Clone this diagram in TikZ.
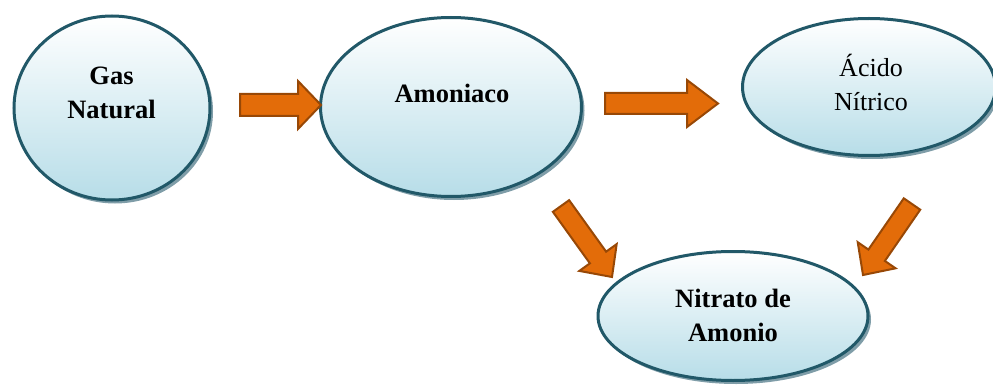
\documentclass[tikz,border=0pt]{standalone}
\usepackage{fontspec}
\setmainfont{Liberation Serif}
\usetikzlibrary{shapes.geometric,shadows,calc}

\definecolor{rimc}{RGB}{33,88,104}
\definecolor{fillc}{RGB}{183,221,232}
\definecolor{shadc}{RGB}{105,140,153}
\definecolor{arrfill}{RGB}{227,108,9}
\definecolor{arrline}{RGB}{152,72,6}

\tikzset{
  bubble/.style={ellipse, draw=rimc, line width=3pt, inner sep=0pt,
    top color=white, bottom color=fillc,
    drop shadow={shadow xshift=3pt, shadow yshift=-3.5pt, fill=shadc, opacity=0.85}},
  lbl/.style={font=\fontsize{26}{34}\selectfont, align=center, inner sep=0pt},
  blockarr/.style={fill=arrfill, draw=arrline, line width=2pt, line join=miter}
}

% block arrow: tail, tip, body half width, head half width, head length
\newcommand\blockarrow[5]{%
  \coordinate (ba-h) at ($(#2)!#5!(#1)$);
  \draw[blockarr]
    ($(#1)!#3!90:(#2)$) --
    ($(ba-h)!#3!-90:(#1)$) --
    ($(ba-h)!#4!-90:(#1)$) --
    (#2) --
    ($(ba-h)!#4!90:(#1)$) --
    ($(ba-h)!#3!90:(#1)$) --
    ($(#1)!#3!-90:(#2)$) -- cycle;}

\begin{document}
\begin{tikzpicture}[x=1pt,y=-1pt]
\useasboundingbox (0,0) rectangle (993,385);

% process stages
\node[bubble, minimum width=196pt, minimum height=184pt] (gas) at (112,108) {};
\node[bubble, minimum width=261pt, minimum height=179pt] (amon) at (451,107) {};
\node[bubble, minimum width=253pt, minimum height=137pt] (acido) at (869,87) {};
\node[bubble, minimum width=270pt, minimum height=129pt] (nitrato) at (733,316) {};

% stage names
\node[lbl, font=\fontsize{26.5}{34}\selectfont\bfseries] (gasT) at (111.5,93) {Gas\\Natural};
\node[lbl, font=\fontsize{26.5}{34}\selectfont\bfseries, anchor=base] (amonT) at (452,103) {Amoniaco};
\node[lbl] (acidoT) at (871,82) {Ácido\\Nítrico};
\node[lbl, font=\fontsize{26.5}{34}\selectfont\bfseries] (nitratoT) at (733,315) {Nitrato de\\Amonio};

% flow arrows
\coordinate (a1s) at (240,105);   \coordinate (a1e) at (321,105);
\coordinate (a2s) at (605,103.5); \coordinate (a2e) at (718,103.5);
\coordinate (a3s) at (561,206);   \coordinate (a3e) at (612,277);
\coordinate (a4s) at (912,204);   \coordinate (a4e) at (863,275);

\blockarrow{a1s}{a1e}{11pt}{24pt}{23pt}
\blockarrow{a2s}{a2e}{10.5pt}{23.5pt}{31pt}
\blockarrow{a3s}{a3e}{10pt}{23pt}{24pt}
\blockarrow{a4s}{a4e}{10pt}{23pt}{24pt}
\end{tikzpicture}
\end{document}
